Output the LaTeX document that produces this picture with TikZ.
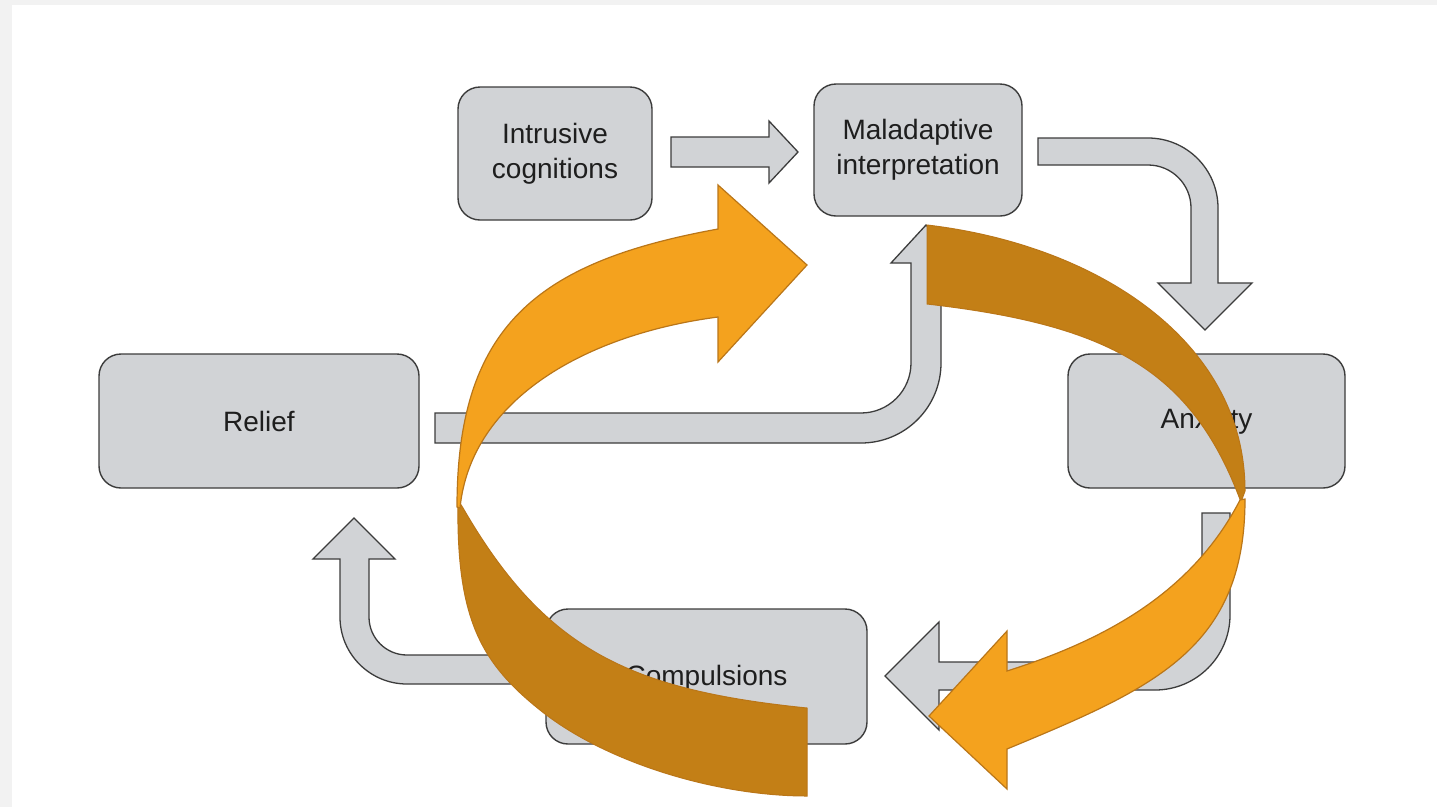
\documentclass[tikz,border=0pt]{standalone}
\usepackage{fontspec}
\setmainfont{Liberation Sans}
\definecolor{boxfill}{RGB}{209,211,214}
\definecolor{boxline}{RGB}{60,60,60}
\definecolor{orlight}{RGB}{244,162,30}
\definecolor{ordark}{RGB}{195,127,22}
\definecolor{orline}{RGB}{186,118,24}
\definecolor{pagegray}{RGB}{242,242,242}
\definecolor{txt}{RGB}{30,30,30}
\begin{document}
\begin{tikzpicture}[x=1pt,y=-1pt,
  box/.style={draw=boxline, fill=boxfill, line width=1.4pt, rounded corners=22pt,
    align=center, text=txt, font=\fontsize{28}{35}\selectfont, inner sep=0pt},
  garrow/.style={draw=boxline, fill=boxfill, line width=1.3pt, line join=miter},
  frontband/.style={fill=orlight, draw=orline, line width=1.2pt, line join=miter},
  backband/.style={fill=ordark, draw=orline, line width=1pt, line join=miter}]
\fill[pagegray] (0,0) rectangle (1437,807);
\fill[white] (12,5) rectangle (1437,807);
\useasboundingbox (0,0) rectangle (1437,807);

% gray block arrows
\filldraw[garrow] (671,137) -- (769,137) -- (769,121) -- (798,152) -- (769,183) -- (769,167) -- (671,167) -- cycle;
\filldraw[garrow] (1038,138) -- (1148,138) arc[start angle=-90,end angle=0,radius=70]
  -- (1218,283) -- (1252,283) -- (1205,330) -- (1158,283) -- (1191,283)
  -- (1191,208) arc[start angle=0,end angle=-90,radius=43] -- (1038,165) -- cycle;
\filldraw[garrow] (435,413) -- (861,413) arc[start angle=90,end angle=0,radius=50]
  -- (911,263) -- (891,263) -- (926,225) -- (961,263) -- (941,263)
  -- (941,363) arc[start angle=0,end angle=90,radius=80] -- (435,443) -- cycle;
\filldraw[garrow] (1202,513) -- (1230,513) -- (1230,615) arc[start angle=0,end angle=90,radius=75]
  -- (939,690) -- (939,730) -- (885,676) -- (939,622) -- (939,662)
  -- (1155,662) arc[start angle=90,end angle=0,radius=47] -- cycle;
\filldraw[garrow] (546,655) -- (407,655) arc[start angle=90,end angle=180,radius=38]
  -- (369,559) -- (395,559) -- (354,518) -- (313,559) -- (340,559)
  -- (340,617) arc[start angle=180,end angle=90,radius=67] -- (546,684) -- cycle;

% boxes
\node[box, minimum width=194pt, minimum height=133pt] (ic) at (555,153.5) {Intrusive\\cognitions};
\node[box, minimum width=208pt, minimum height=132pt] (mi) at (918,150) {Maladaptive\\interpretation};
\node[box, minimum width=320pt, minimum height=134pt] (relief) at (259,421) {Relief};
\node[box, minimum width=277pt, minimum height=134pt] (anx) at (1206.5,421) {Anxiety};
\node[box, minimum width=321pt, minimum height=135pt, text depth=2pt] (comp) at (706.5,676.5) {Compulsions};

% orange twisted cycle arrows: back (dark) faces
\filldraw[backband] (807,708) -- (807,796) .. controls (717,796) and (606,763) .. (540,710)
  .. controls (481.5,663) and (456,620) .. (458,500) -- (463,508)
  .. controls (545,650) and (630,690) .. (807,708) -- cycle;
\filldraw[backband] (927,304) -- (927,225) .. controls (1097,245) and (1245,341) .. (1245,491)
  -- (1241,502) .. controls (1192,370) and (1110,325) .. (927,304) -- cycle;
% front (light) faces with heads
\filldraw[frontband] (457,507) .. controls (457,327) and (536,262) .. (718,229)
  -- (718,185) -- (807,265) -- (718,362) -- (718,317)
  .. controls (588,334) and (471,398) .. (460,508) -- cycle;
\filldraw[frontband] (1245,499) .. controls (1245,649) and (1154,688) .. (1007,749)
  -- (1007,789) -- (929,716) -- (1007,631) -- (1007,671)
  .. controls (1111.5,638) and (1194,589) .. (1240,500) -- cycle;
\end{tikzpicture}
\end{document}
